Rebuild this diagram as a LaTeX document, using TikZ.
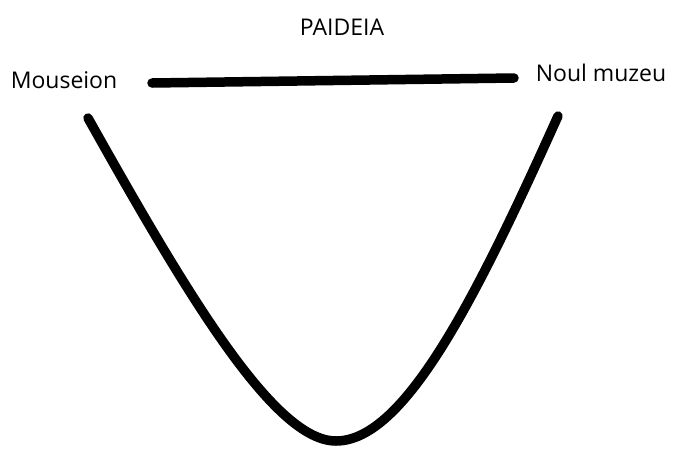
\documentclass[tikz,border=0pt]{standalone}
\usepackage{fontspec}
\setmainfont{Open Sans}
\usetikzlibrary{positioning}

\begin{document}
\begin{tikzpicture}[
          x=1pt, y=-1pt,
          label/.style={font=\fontsize{23}{27}\selectfont, inner sep=0pt},
          stroke/.style={line width=9.5pt, line cap=round}
      ]
      \useasboundingbox (0,0) rectangle (676,453);

      \node[label] (paideia) at (342,27) {PAIDEIA};
      \node[label] (mouseion) at (64,80) {Mouseion};
      \node[label] (noul) at (601,73) {Noul muzeu};

      % bara de sus
      \coordinate (a) at (152,83);
      \coordinate (b) at (514,78);
      \draw[stroke] (a) -- (b);

      % curba
      \coordinate (left) at (88,118);
      \coordinate (bottom) at (336,441);
      \coordinate (right) at (558,116);
      \draw[stroke] (left) .. controls (190,300) and (275,441) .. (bottom)
                           .. controls (405,441) and (477,296) .. (right);

\end{tikzpicture}
\end{document}
